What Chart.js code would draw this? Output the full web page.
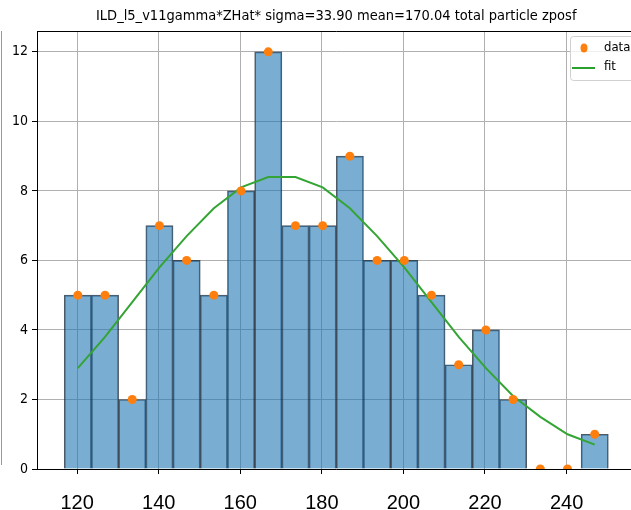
<!DOCTYPE html>
<html>
<head>
<meta charset="utf-8">
<script src="https://cdn.jsdelivr.net/npm/chart.js@4"></script>
<style>
  html, body { margin: 0; padding: 0; background: #fff; overflow: hidden; }
  #wrap { width: 631px; height: 510px; overflow: hidden; position: relative; }
  #box { width: 640px; height: 510px; }
</style>
</head>
<body>
<div id="wrap"><div id="box"><canvas id="hist"></canvas></div></div>
<script>
const TITLE = 'ILD_l5_v11gamma*ZHat* sigma=33.90 mean=170.04 total particle zposf';

// bin centres and counts of the histogram
const binCenters = [120.17, 126.84, 133.51, 140.18, 146.85, 153.52, 160.19, 166.86, 173.53, 180.2,
                    186.87, 193.54, 200.21, 206.88, 213.55, 220.22, 226.89, 233.56, 240.23, 246.9];
const counts = [5, 5, 2, 7, 6, 5, 8, 12, 7, 7, 9, 6, 6, 5, 3, 4, 2, 0, 0, 1];
// gaussian fit evaluated at the bin centres
const fitValues = [2.9, 3.8, 4.8, 5.8, 6.7, 7.5, 8.1, 8.4, 8.4, 8.1,
                   7.5, 6.7, 5.8, 4.8, 3.8, 2.9, 2.1, 1.5, 1.0, 0.7];

const xTicks = [120, 140, 160, 180, 200, 220, 240];
const yTicks = [0, 2, 4, 6, 8, 10, 12];
const X_MIN = 110.16, X_MAX = 256.9;
const Y_MIN = 0, Y_MAX = 12.6;

const NARROW = "'Liberation Sans Narrow', 'DejaVu Sans Condensed', 'Liberation Sans', sans-serif";

const toXY = (vals) => vals.map((v, i) => ({ x: binCenters[i], y: v }));

// title, top spine, legend box and the stray axis line at the far left
const decorations = {
  id: 'decorations',
  afterDraw(chart) {
    const { ctx, chartArea } = chart;
    ctx.save();

    ctx.fillStyle = '#000';
    ctx.font = "14.5px " + NARROW;
    ctx.textAlign = 'center';
    ctx.textBaseline = 'alphabetic';
    ctx.fillText(TITLE, (chartArea.left + chartArea.right) / 2, 20);

    ctx.strokeStyle = '#000';
    ctx.lineWidth = 1;
    ctx.beginPath();
    ctx.moveTo(chartArea.left, chartArea.top + 0.5);
    ctx.lineTo(chartArea.right, chartArea.top + 0.5);
    ctx.stroke();

    ctx.strokeStyle = '#999';
    ctx.beginPath();
    ctx.moveTo(1.5, chartArea.top);
    ctx.lineTo(1.5, chartArea.bottom - 4);
    ctx.stroke();

    // legend
    const lx = 570.5, ly = 36.5, lw = 80, lh = 44;
    ctx.fillStyle = 'rgba(255,255,255,0.8)';
    ctx.strokeStyle = '#d0d0d0';
    ctx.beginPath();
    ctx.roundRect(lx, ly, lw, lh, 3);
    ctx.fill();
    ctx.stroke();

    ctx.fillStyle = '#ff7f0e';
    ctx.beginPath();
    ctx.ellipse(584, 48, 3.5, 4.5, 0, 0, Math.PI * 2);
    ctx.fill();

    ctx.strokeStyle = '#2ca02c';
    ctx.lineWidth = 2;
    ctx.beginPath();
    ctx.moveTo(572, 68);
    ctx.lineTo(595, 68);
    ctx.stroke();

    ctx.fillStyle = '#000';
    ctx.font = "13px " + NARROW;
    ctx.textAlign = 'left';
    ctx.textBaseline = 'middle';
    ctx.fillText('data', 604, 48);
    ctx.fillText('fit', 604, 67);

    ctx.restore();
  }
};

new Chart(document.getElementById('hist'), {
  data: {
    datasets: [
      {
        type: 'scatter',
        label: 'data',
        data: toXY(counts),
        backgroundColor: '#ff7f0e',
        borderColor: '#ff7f0e',
        pointRadius: 4.5,
        pointBorderWidth: 0,
        order: 1
      },
      {
        type: 'line',
        label: 'fit',
        data: toXY(fitValues),
        borderColor: '#34a534',
        borderWidth: 2,
        pointRadius: 0,
        tension: 0,
        fill: false,
        order: 2
      },
      {
        type: 'bar',
        label: 'hist',
        data: toXY(counts),
        backgroundColor: 'rgba(31,119,180,0.6)',
        borderColor: 'rgba(20,35,50,0.75)',
        borderWidth: 1,
        barPercentage: 1,
        categoryPercentage: 1,
        grouped: false,
        order: 3
      }
    ]
  },
  options: {
    responsive: true,
    maintainAspectRatio: false,
    animation: false,
    layout: { padding: { top: 31, right: 2, left: 0, bottom: 0 } },
    plugins: {
      legend: { display: false },
      tooltip: { enabled: false },
      title: { display: false }
    },
    scales: {
      x: {
        type: 'linear',
        min: X_MIN,
        max: X_MAX,
        offset: false,
        afterBuildTicks: (axis) => { axis.ticks = xTicks.map(v => ({ value: v })); },
        afterFit: (axis) => { axis.height = 41; },
        grid: { color: '#b0b0b0', lineWidth: 1, tickColor: '#000', tickLength: 5, offset: false },
        border: { display: true, color: '#000', width: 1 },
        ticks: {
          color: '#000',
          font: { family: "'Liberation Sans', Arial, sans-serif", size: 20 },
          padding: 17,
          maxRotation: 0
        }
      },
      y: {
        type: 'linear',
        min: Y_MIN,
        max: Y_MAX,
        afterBuildTicks: (axis) => { axis.ticks = yTicks.map(v => ({ value: v })); },
        afterFit: (axis) => { axis.width = 37; },
        grid: { color: '#b0b0b0', lineWidth: 1, tickColor: '#000', tickLength: 5 },
        border: { display: true, color: '#000', width: 1 },
        ticks: {
          color: '#000',
          font: { family: NARROW, size: 14 },
          padding: 4
        }
      }
    }
  },
  plugins: [decorations]
});
</script>
</body>
</html>
